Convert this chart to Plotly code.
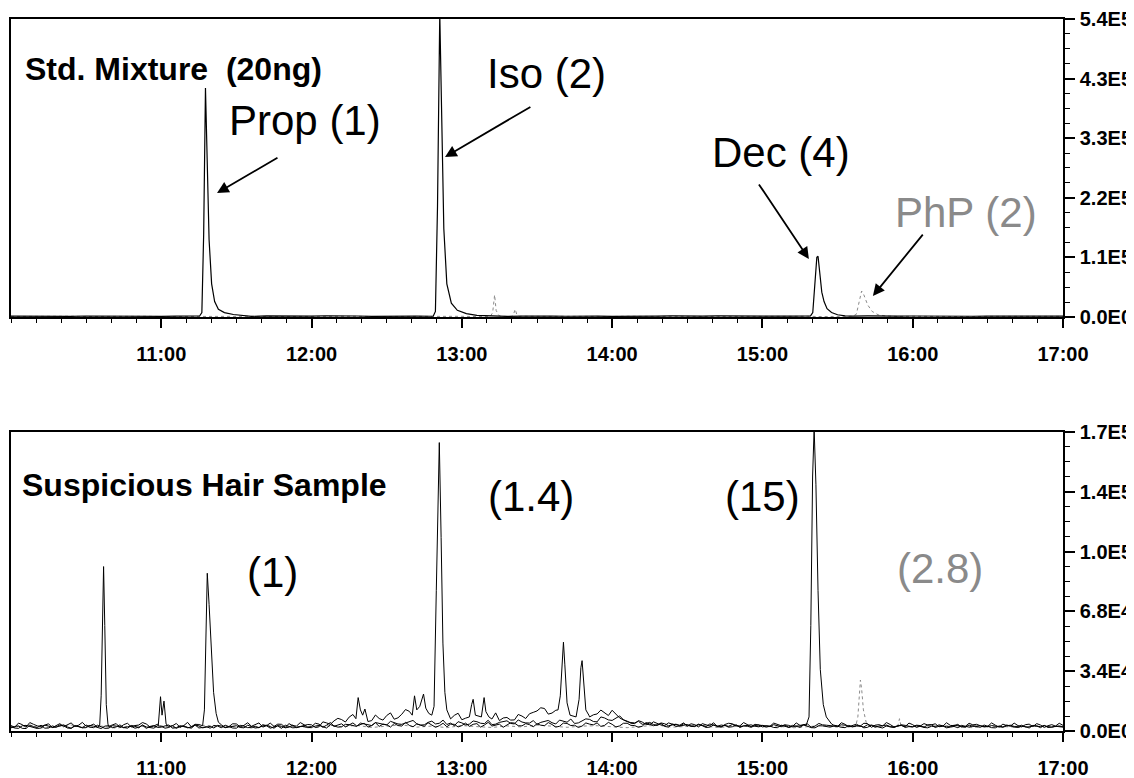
import plotly.graph_objects as go

# ---------------- DATA (intensities in thousands of counts) ----------------
# sampling grids for the baselines
top_grid_start, top_grid_step = 10.0, 0.1
bot_grid_start, bot_grid_step = 10.0, 0.05
bot_mid_start = 10.025

# top panel: black trace baseline
top_black_base = [1.6,1.2,1.9,1.4,1.1,1.8,1.5,2.0,1.3,1.7, 1.2,1.6,2.1,1.4,1.8,1.5,1.1,1.9,1.6,1.3,
                  1.7,2.2,1.4,1.8,1.2,1.6,1.9,1.5,1.3,2.0, 1.6,1.4,1.8,1.1,1.7,2.1,1.5,1.3,1.9,1.6,
                  1.2,1.8,1.4,1.7,2.0,1.3,1.6,1.9,1.5,1.2, 1.8,1.4,1.6,2.1,1.3,1.7,1.5,1.9,1.2,1.6,
                  1.8,1.4,2.0,1.5,1.3,1.7,1.9,1.4,1.6,1.8, 1.5]
# top panel: grey dotted trace baseline
top_gray_base = [0.9,1.2,0.7,1.0,1.3,0.8,1.1,0.6,1.0,1.2, 0.8,1.1,0.9,1.3,0.7,1.0,1.2,0.8,1.1,0.9,
                 1.3,0.7,1.0,1.2,0.8,1.1,0.9,1.4,0.8,1.0, 1.2,0.7,1.1,0.9,1.3,0.8,1.0,1.2,0.7,1.1,
                 0.9,1.3,0.8,1.0,1.2,0.7,1.1,0.9,1.0,1.3, 0.8,1.1,0.9,1.2,0.7,1.0,1.3,0.8,1.1,0.9,
                 1.2,0.8,1.0,1.3,0.7,1.1,0.9,1.2,0.8,1.0, 1.1]

# top panel peaks (Std. mixture)
prop_t = [11.255, 11.27, 11.282, 11.294, 11.305, 11.318, 11.335, 11.355, 11.38, 11.42, 11.48, 11.55]
prop_y = [1.8, 8, 150, 415, 300, 140, 60, 28, 14, 8, 4.5, 2.5]
iso_t = [12.81, 12.824, 12.838, 12.853, 12.866, 12.88, 12.90, 12.93, 12.97, 13.03, 13.10]
iso_y = [1.8, 10, 200, 550, 340, 160, 60, 25, 12, 6, 3]
dec_t = [15.32, 15.335, 15.35, 15.362, 15.37, 15.38, 15.395, 15.41, 15.43, 15.46, 15.50, 15.55]
dec_y = [2, 8, 60, 108, 110, 85, 45, 28, 15, 8, 4, 2]
gsm1_t = [13.19, 13.205, 13.218, 13.228, 13.245, 13.26]
gsm1_y = [1.0, 8, 40, 12, 3, 1.1]
gsm2_t = [13.33, 13.345, 13.355, 13.365, 13.38]
gsm2_y = [1.0, 6, 14, 5, 1.1]
php_t = [15.60, 15.625, 15.645, 15.66, 15.675, 15.70, 15.73, 15.77, 15.82]
php_y = [1.3, 5, 30, 47, 40, 22, 10, 4, 1.8]

# bottom panel baselines (three black traces + grey dotted); *_base on the
# 0.05 min grid, *_mid on the points half-way between
hair_a_base = [3.1,4.5,2.2,3.8,2.6,4.1,3.0,2.4,4.6,3.3, 2.7,3.9,3.2,2.5,4.2,3.6,2.3,3.4,4.0,2.8,
               3.5,2.6,4.3,3.1,2.4,3.7,4.4,2.9,3.3,2.5, 4.0,3.2,2.7,4.6,3.0,2.6,3.8,4.2,2.8,3.4,
               2.5,3.9,3.3,2.7,4.1,3.5,2.9,4.4,3.1,2.6, 3.6,4.3,2.8,3.2,4.0,2.7,3.5,3.0,2.4,3.8,
               3.1,2.6,4.2,3.4,2.8,3.9,3.2,4.5,2.9,3.6, 4.1,3.0,3.7,2.7,4.3,3.3,2.8,3.9,4.6,3.2,
               3.8,2.9,4.4,3.1,2.7,4.0,3.5,2.6,3.9,3.3, 2.8,3.6,4.2,3.0,2.5,3.7,4.1,2.9,3.4,3.8,
               3.1,2.7,3.9,3.4,2.6,3.2,4.0,2.8,3.5,3.0, 2.6,3.8,3.1,2.7,4.2,3.3,2.9,3.7,3.0,2.5,
               3.6,2.8,3.4,4.1,2.7,3.2,3.8,2.6,3.5,3.0, 2.7,3.3,3.9,2.8,3.1,3.6,2.5,3.4,3.0,2.8,
               3.2]
hair_a_mid = [2.1,3.6,4.8,2.9,3.4,1.9,4.2,3.7,2.6,4.9, 3.0,2.2,4.7,3.5,2.0,4.4,3.1,4.8,2.3,3.9,
              4.6,3.0,2.1,4.9,3.8,2.2,3.1,4.6,2.0,4.1, 2.4,4.7,3.6,2.2,4.5,3.9,2.1,3.0,4.8,2.3,
              4.4,2.1,4.8,3.6,2.3,4.6,3.8,2.2,4.7,3.9, 2.2,3.1,4.9,2.4,3.3,4.7,2.1,4.4,3.9,2.3,
              4.5,3.8,2.2,4.9,3.5,2.1,4.7,3.0,4.2,2.4, 3.3,4.8,2.2,4.5,3.1,2.0,4.6,3.5,2.6,4.9,
              2.3,4.4,3.2,2.1,4.8,3.0,4.3,2.2,3.7,4.6, 4.1,2.3,3.5,4.7,2.2,4.4,3.0,4.8,2.4,3.6,
              2.2,4.5,3.0,2.0,4.6,3.8,2.1,4.3,3.3,2.6, 4.7,2.4,3.9,4.4,2.1,3.6,4.8,2.3,3.1,4.5,
              2.1,4.2,3.5,2.4,4.7,3.0,2.2,4.4,3.8,2.3, 4.6,2.2,3.1,4.5,2.3,3.9,4.2,2.0,3.6,4.4]
hair_b_base = [1.8,2.9,1.4,2.5,3.3,1.7,2.2,3.0,1.5,2.6, 3.4,1.9,2.4,1.6,2.8,2.1,3.1,1.8,2.3,1.6,
               2.7,2.0,1.5,2.9,2.2,1.7,2.5,3.2,1.9,2.4, 1.6,2.8,2.1,1.8,3.0,2.3,1.5,2.6,2.0,2.9,
               3.5,2.4,4.6,5.8,6.5,7.9,6.2,8.4,5.9,7.1, 8.8,6.7,9.5,11.2,9.0,8.1,10.4,9.2,7.6,8.9,
               6.4,8.3,7.0,9.6,6.8,5.9,7.7,6.3,8.5,9.8, 11.4,12.8,10.2,9.1,8.6,7.2,6.9,8.0,9.7,10.5,
               11.8,7.4,5.6,4.2,5.1,3.6,4.4,3.1,3.9,2.8, 3.4,2.5,3.0,2.2,2.9,3.3,2.4,2.0,2.7,3.1,
               2.3,2.8,1.9,2.6,3.2,2.1,2.5,1.8,2.9,2.2, 2.7,1.9,2.4,3.0,2.1,2.6,1.7,2.3,2.8,2.0,
               2.5,3.1,1.8,2.4,2.9,2.2,1.9,2.7,3.0,2.1, 2.6,1.8,2.3,2.9,2.0,2.5,3.2,1.9,2.4,2.7,
               2.2]
hair_b_mid = [2.6,1.5,3.4,2.0,1.6,2.9,3.5,1.7,2.8,1.9, 2.2,3.3,1.5,3.0,2.4,1.6,2.7,3.4,1.8,2.9,
              1.6,3.1,2.6,1.8,3.5,2.0,1.6,2.8,3.3,1.7, 3.2,1.9,2.7,3.6,1.6,2.9,3.3,1.8,2.5,3.7,
              2.0,5.2,3.8,7.2,5.1,9.4,7.0,5.4,9.1,6.2, 10.3,7.5,12.2,8.4,10.8,13.5,8.6,11.0,6.9,10.1,
              7.3,9.9,5.6,8.1,10.3,7.4,6.2,9.4,7.1,10.6, 13.2,9.6,11.8,7.8,10.1,8.3,7.6,9.2,11.9,8.8,
              9.5,6.3,4.4,5.9,3.8,5.2,3.4,4.6,2.6,4.1, 2.6,3.7,2.0,3.5,2.4,2.2,3.6,2.9,2.1,3.4,
              3.0,2.0,3.3,2.2,2.7,3.5,1.9,3.0,2.4,2.8, 2.1,3.2,2.8,1.8,3.4,2.2,2.9,2.0,3.3,2.5,
              3.3,2.0,2.7,3.5,1.8,2.6,3.2,2.2,2.5,3.4, 1.9,2.9,3.4,2.2,2.7,1.7,2.9,3.1,2.1,2.5]
hair_c_base = [2.4,1.5,3.2,2.0,1.7,2.8,2.2,3.5,1.6,2.5, 1.9,2.7,1.4,3.0,2.3,1.8,2.6,2.1,1.5,3.1,
               2.2,3.4,1.9,2.5,1.6,2.9,2.1,1.7,2.8,2.3, 3.0,1.8,2.4,2.0,3.3,1.6,2.7,2.2,1.9,2.6,
               2.1,3.2,1.7,2.9,2.4,3.6,2.6,3.9,3.1,4.3, 3.4,4.8,3.8,5.2,4.1,3.5,5.6,4.4,3.7,3.0,
               4.6,3.9,5.3,4.2,3.6,4.9,5.8,4.0,5.1,4.5, 3.8,5.4,4.7,6.2,5.0,4.3,5.7,6.6,5.2,7.4,
               6.0,8.6,5.3,4.6,3.8,4.9,3.2,4.1,3.5,2.9, 3.6,2.8,3.3,4.0,2.6,3.1,3.7,2.4,3.0,2.7,
               3.2,2.5,2.9,3.5,2.3,2.8,3.1,2.6,3.4,2.2, 2.9,3.3,2.4,2.7,3.6,2.1,3.0,2.5,2.8,3.2,
               2.3,2.7,3.4,2.0,2.9,2.5,3.1,2.2,2.6,3.0, 2.4,2.8,2.1,3.3,2.6,2.2,2.9,2.5,2.0,2.7,
               2.4]
hair_c_mid = [1.7,3.0,2.6,1.4,3.3,2.0,2.9,2.3,3.1,1.8, 3.2,2.1,2.8,1.9,3.5,2.4,1.6,3.3,2.6,2.0,
              2.9,1.6,3.0,2.2,3.4,1.8,2.6,3.2,1.9,2.7, 2.0,3.3,1.7,2.9,2.3,3.1,1.8,3.4,2.5,1.9,
              2.8,2.4,3.6,2.2,3.8,2.9,4.5,3.3,4.8,3.6, 5.5,4.0,4.6,6.0,3.4,4.9,4.0,6.2,4.5,5.3,
              3.5,5.7,4.4,6.1,3.9,5.5,4.3,6.3,4.6,5.9, 4.9,6.0,4.0,5.5,6.8,4.6,6.9,5.4,8.0,6.3,
              7.2,6.4,4.8,5.5,4.2,3.7,4.6,3.0,3.9,3.3, 2.9,3.9,2.5,3.5,3.4,2.7,3.2,2.9,3.5,2.4,
              2.7,3.6,2.4,3.2,2.9,3.5,2.4,3.0,2.7,3.3, 3.5,2.6,3.1,2.3,3.2,2.8,3.4,2.2,3.5,2.6,
              3.0,2.2,3.6,2.7,2.4,3.3,2.6,3.4,2.8,2.5, 3.1,2.3,2.9,2.6,3.3,2.4,2.7,3.2,2.3,2.9]
hair_gray_base = [2.2,3.0,1.8,2.6,3.4,2.0,2.8,1.6,3.1,2.4, 2.9,1.9,2.5,3.3,2.1,2.7,1.7,3.0,2.3,2.6,
                  1.8,2.9,2.4,3.2,2.0,2.7,3.5,2.2,2.8,1.9, 3.1,2.5,2.0,2.9,2.3,3.4,2.6,2.1,2.8,3.0,
                  2.4,1.9,2.7,3.3,2.2,2.5,3.0,2.0,2.6,2.9, 2.3,2.8,1.8,2.5,3.1,2.2,2.7,2.0,2.9,2.4,
                  2.1,2.6,3.2,2.3,1.9,2.8,2.5,2.2,3.0,2.4, 2.6]

# bottom panel peaks (suspicious hair sample)
h1_t = [10.59, 10.60, 10.609, 10.616, 10.624, 10.634, 10.645]
h1_y = [3, 20, 75, 93.5, 60, 15, 4]
h2_t = [10.98, 10.995, 11.005, 11.018, 11.032]
h2_y = [3, 19.5, 9, 17, 4]
h3_t = [11.275, 11.287, 11.298, 11.306, 11.318, 11.332, 11.348, 11.365, 11.38, 11.40]
h3_y = [3, 12, 60, 89.7, 72, 45, 22, 10, 5, 3.5]
h4_t = [12.295, 12.31, 12.325, 12.34, 12.355, 12.37]
h4_y = [7, 19, 12, 9, 12.5, 8]
h5_t = [12.67, 12.685, 12.70, 12.72, 12.745, 12.76, 12.78]
h5_y = [9, 20, 12, 14, 21, 13, 10]
h6_t = [12.80, 12.815, 12.83, 12.85, 12.862, 12.874, 12.887, 12.90]
h6_y = [9, 14, 80, 164, 110, 50, 22, 12]
h7_t = [13.05, 13.065, 13.075, 13.09, 13.13, 13.148, 13.16, 13.18]
h7_y = [8, 15, 18, 9, 8, 19, 11, 8]
h8_t = [13.64, 13.655, 13.668, 13.676, 13.685, 13.70, 13.72, 13.76, 13.78, 13.792, 13.80, 13.81, 13.825, 13.845]
h8_y = [12, 20, 42, 50.5, 38, 16, 9, 8, 18, 36, 40, 30, 12, 9]
h9_t = [15.29, 15.31, 15.322, 15.334, 15.344, 15.356, 15.37, 15.385, 15.405, 15.425, 15.46]
h9_y = [3, 8, 60, 145, 172, 140, 80, 35, 15, 8, 4]
hg1_t = [15.62, 15.635, 15.645, 15.652, 15.66, 15.672, 15.69, 15.71]
hg1_y = [2.5, 8, 22, 29, 24, 12, 5, 2.5]
hg2_t = [15.90, 15.912, 15.922]
hg2_y = [2.5, 7, 3]

# axis ticks
time_ticks = [11, 12, 13, 14, 15, 16, 17]
time_labels = ["11:00", "12:00", "13:00", "14:00", "15:00", "16:00", "17:00"]
top_yticks = [0, 108000, 216000, 324000, 432000, 540000]
top_ylabels = ["0.0E0", "1.1E5", "2.2E5", "3.3E5", "4.3E5", "5.4E5"]
bot_yticks = [0, 34000, 68000, 102000, 136000, 170000]
bot_ylabels = ["0.0E0", "3.4E4", "6.8E4", "1.0E5", "1.4E5", "1.7E5"]


def build(bases, peaks):
    """bases: list of (start, step, values); peaks: list of (times, values)."""
    windows = [(min(t), max(t)) for t, _ in peaks]
    pts = []
    for start, step, vals in bases:
        for i, v in enumerate(vals):
            t = start + i * step
            if not any(a <= t <= b for a, b in windows):
                pts.append((t, v))
    for t, y in peaks:
        pts.extend(zip(t, y))
    pts.sort()
    return [p[0] for p in pts], [p[1] * 1000 for p in pts]


FONT = "Liberation Sans, Arial, sans-serif"
BLACK = "#000000"
GRAY = "#8a8a8a"

fig = go.Figure()

def add(xs, ys, xa, ya, color, dash="solid", width=1):
    fig.add_trace(go.Scatter(x=xs, y=ys, xaxis=xa, yaxis=ya, mode="lines",
                             line=dict(color=color, width=width, dash=dash),
                             showlegend=False, hoverinfo="skip"))

x, y = build([(top_grid_start, top_grid_step, top_gray_base)],
             [(gsm1_t, gsm1_y), (gsm2_t, gsm2_y), (php_t, php_y)])
add(x, y, "x", "y", GRAY, "dot")
x, y = build([(top_grid_start, top_grid_step, top_black_base)],
             [(prop_t, prop_y), (iso_t, iso_y), (dec_t, dec_y)])
add(x, y, "x", "y", BLACK, width=1.2)

x, y = build([(bot_grid_start, top_grid_step, hair_gray_base)], [(hg1_t, hg1_y), (hg2_t, hg2_y)])
add(x, y, "x2", "y2", GRAY, "dot")
x, y = build([(bot_grid_start, bot_grid_step, hair_c_base), (bot_mid_start, bot_grid_step, hair_c_mid)],
             [(h9_t, h9_y)])
add(x, y, "x2", "y2", BLACK)
x, y = build([(bot_grid_start, bot_grid_step, hair_a_base), (bot_mid_start, bot_grid_step, hair_a_mid)],
             [(h1_t, h1_y), (h2_t, h2_y), (h3_t, h3_y)])
add(x, y, "x2", "y2", BLACK)
x, y = build([(bot_grid_start, bot_grid_step, hair_b_base), (bot_mid_start, bot_grid_step, hair_b_mid)],
             [(h4_t, h4_y), (h5_t, h5_y), (h6_t, h6_y), (h7_t, h7_y), (h8_t, h8_y)])
add(x, y, "x2", "y2", BLACK)

minor_x = [10 + i / 6 for i in range(43)]

def xaxis(anchor):
    return dict(anchor=anchor, domain=[0, 1], range=[10, 17], tickmode="array",
                tickvals=time_ticks, ticktext=time_labels, ticks="outside", ticklen=9,
                tickwidth=1.5, tickcolor=BLACK, showline=True, linecolor=BLACK,
                linewidth=1.5, mirror=True, showgrid=False, zeroline=False,
                automargin=False, ticklabelstandoff=9,
                tickfont=dict(family=FONT, size=20, color=BLACK, weight="bold"),
                minor=dict(tickmode="array", tickvals=minor_x, ticks="outside",
                           ticklen=4, tickwidth=1, tickcolor=BLACK, showgrid=False))

def yaxis(anchor, domain, rng, tv, tt):
    step = tv[1] / 4
    return dict(anchor=anchor, domain=domain, range=rng, side="right", tickmode="array",
                tickvals=tv, ticktext=tt, ticks="outside", ticklen=10, tickwidth=1.5,
                tickcolor=BLACK, showline=True, linecolor=BLACK, linewidth=1.5,
                mirror=True, showgrid=False, zeroline=False, ticklabelstandoff=1,
                automargin=False,
                tickfont=dict(family=FONT, size=20, color=BLACK, weight="bold"),
                minor=dict(tickmode="array", tickvals=[i * step for i in range(21)],
                           ticks="outside", ticklen=5, tickwidth=1, tickcolor=BLACK,
                           showgrid=False))

annotations = []

def label(text, x, y, xr, yr, size, bold=False, color=BLACK, xanchor="center"):
    annotations.append(dict(text=text, x=x, y=y, xref=xr, yref=yr, showarrow=False,
                            xanchor=xanchor, yanchor="middle",
                            font=dict(family=FONT, size=size, color=color,
                                      weight="bold" if bold else "normal")))

def arrow(x, y, ax, ay, xr, yr):
    annotations.append(dict(text="", x=x, y=y, ax=ax, ay=ay, xref=xr, yref=yr,
                            axref=xr, ayref=yr, showarrow=True, arrowhead=2,
                            arrowsize=1.3, arrowwidth=1.8, arrowcolor=BLACK, standoff=0))

label("Std. Mixture\u00a0 (20ng)", 10.080, 449400, "x", "y", 32, bold=True, xanchor="left")
label("Prop (1)", 11.956, 355200, "x", "y", 42)
label("Iso (2)", 13.560, 441200, "x", "y", 42)
label("Dec (4)", 15.123, 297200, "x", "y", 42)
label("PhP (2)", 16.354, 188500, "x", "y", 42, color=GRAY)
arrow(11.371, 224700, 11.783, 290000, "x", "y")
arrow(12.888, 289900, 13.466, 382200, "x", "y")
arrow(15.309, 105000, 14.970, 243000, "x", "y")
arrow(15.735, 38000, 16.075, 152000, "x", "y")

label("Suspicious Hair Sample", 10.063, 139870, "x2", "y2", 32, bold=True, xanchor="left")
label("(1)", 11.737, 90180, "x2", "y2", 42)
label("(1.4)", 13.460, 133600, "x2", "y2", 42)
label("(15)", 15.003, 133600, "x2", "y2", 42)
label("(2.8)", 16.181, 92680, "x2", "y2", 42, color=GRAY)

# the page body keeps its default 8 px margin, so the figure is 8 px smaller
# and its margins are shifted by 8 px to land on the same page pixels
fig.update_layout(
    width=1126, height=770,
    margin=dict(l=3, r=71, t=11, b=47),
    paper_bgcolor="white", plot_bgcolor="white",
    xaxis=xaxis("y"),
    yaxis=yaxis("x", [0.5815, 1], [0, 540000], top_yticks, top_ylabels),
    xaxis2=xaxis("y2"),
    yaxis2=yaxis("x2", [0, 0.4199], [0, 170000], bot_yticks, bot_ylabels),
    annotations=annotations,
    showlegend=False,
)

fig.write_html("out.html")
